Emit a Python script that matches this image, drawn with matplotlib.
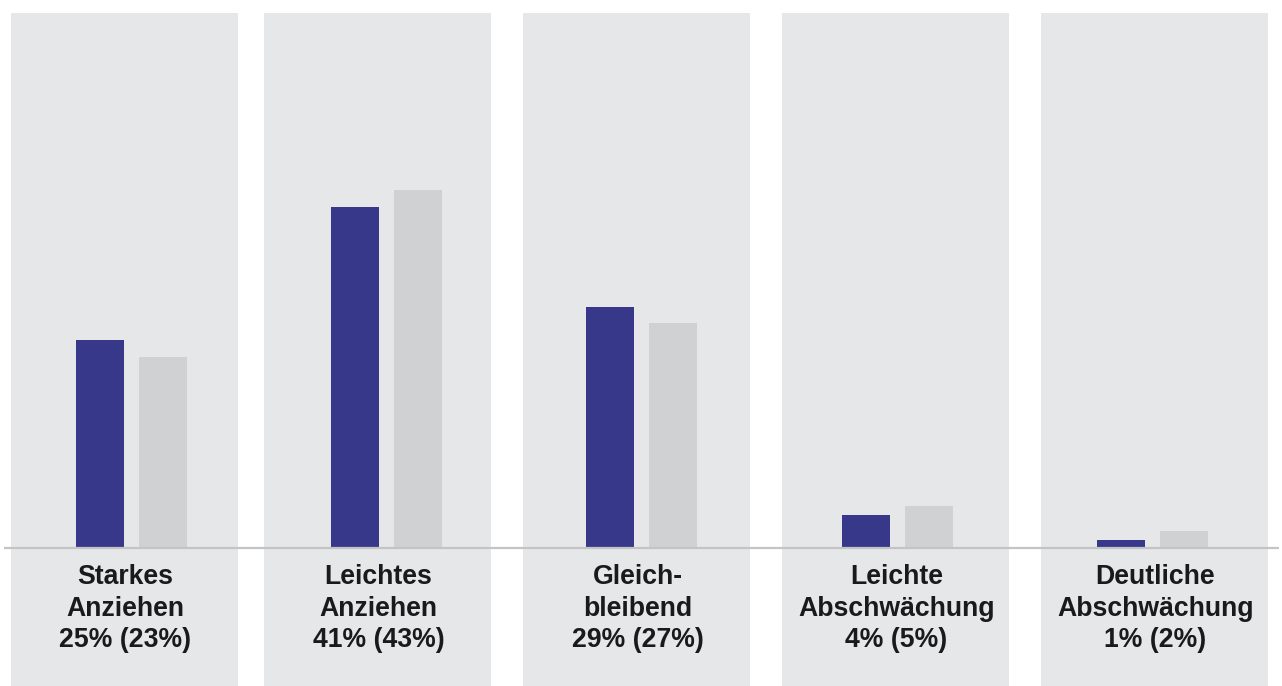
import matplotlib.pyplot as plt

# data
categories = ["Starkes\nAnziehen", "Leichtes\nAnziehen", "Gleich-\nbleibend",
              "Leichte\nAbschwächung", "Deutliche\nAbschwächung"]
current = [25, 41, 29, 4, 1]
previous = [23, 43, 27, 5, 2]

plt.rcParams['font.family'] = ['Liberation Sans', 'DejaVu Sans']

fig = plt.figure(figsize=(12.82, 6.86), dpi=100)
ax = fig.add_axes([0, 0, 1, 1])

# x in pixel units, y in percent
n = len(categories)
panel_left = [11, 264, 523, 782, 1041]
panel_w = 227
bar_x = [100 + 255.2 * i for i in range(n)]

# grey background panels
ax.bar(panel_left, [64.3 + 16.6] * n, bottom=-16.6, width=panel_w,
       align='edge', color='#e6e7e9', zorder=0)

# bars
ax.bar(bar_x, current, width=48, color='#373889', zorder=2)
ax.bar([b + 63 for b in bar_x], previous, width=48, color='#d0d1d3', zorder=2)

# baseline
ax.plot([4, 1279], [0, 0], color='#c4c4c4', lw=1.6, zorder=3,
        solid_capstyle='butt')

# labels
for pl, cat, cur, prev in zip(panel_left, categories, current, previous):
    ax.text(pl + panel_w / 2 + 1, -7.28, f"{cat}\n{cur}% ({prev}%)",
            ha='center', va='center', fontsize=19.2, fontweight='bold',
            color='#1a1a1a', linespacing=1.26)

ax.set_xlim(0, 1282)
ax.set_ylim(-138 / 8.32, (686 - 138) / 8.32)
ax.axis('off')

fig.savefig('out.png', dpi=100)
